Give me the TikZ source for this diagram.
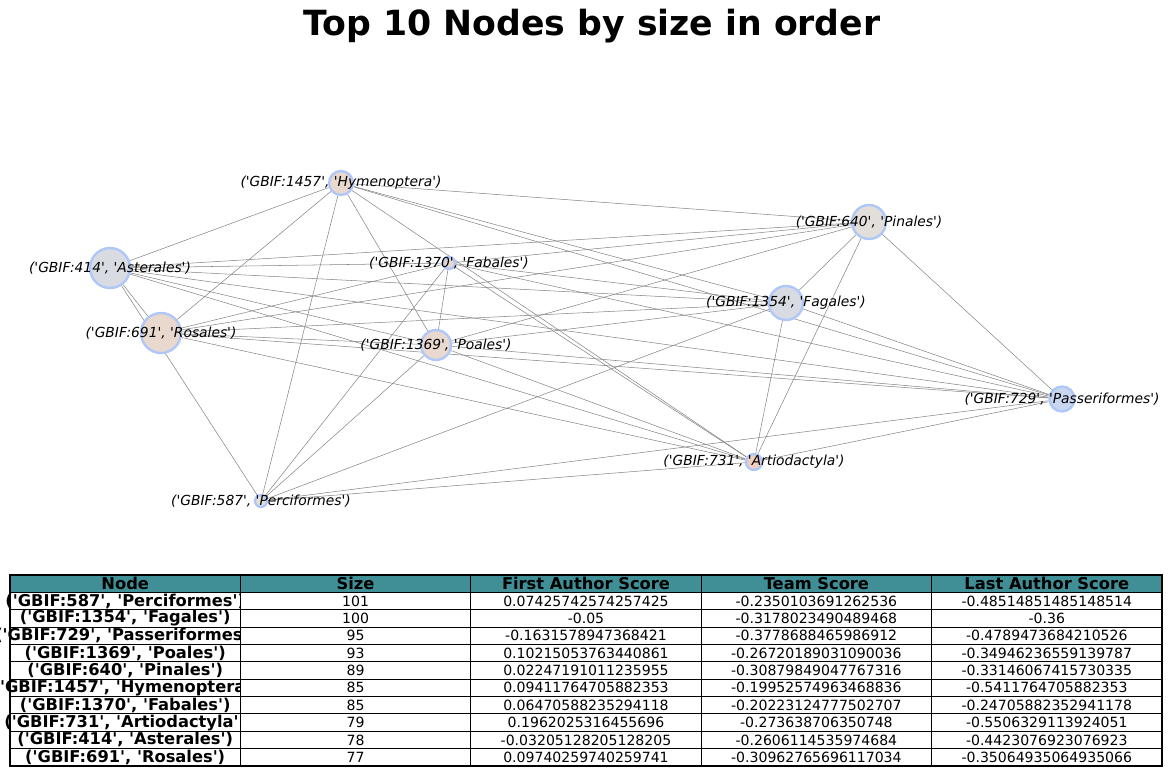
\documentclass[tikz,border=0pt]{standalone}
\usepackage{fontspec}
\newfontfamily\plotfont{DejaVu Sans}[ItalicFont={DejaVu Sans Oblique},BoldFont={DejaVu Sans Bold}]
\usetikzlibrary{backgrounds,positioning}
\definecolor{ringblue}{HTML}{AEC7F8}
\definecolor{headteal}{HTML}{408E96}
\definecolor{peach}{HTML}{E8D8CE}
\definecolor{peachdark}{HTML}{F0CEBE}
\definecolor{greyblue}{HTML}{D8DCE2}
\definecolor{greywarm}{HTML}{E2DEDA}
\definecolor{paleblue}{HTML}{C8D6F0}
\newcommand\tablebold{\plotfont\bfseries\fontsize{13.9}{14}\selectfont}
\newcommand\tablefont{\plotfont\fontsize{12}{13}\selectfont}
\begin{document}
\begin{tikzpicture}[x=0.03cm,y=-0.03cm,
  taxon/.style={circle,draw=ringblue,line width=2pt,inner sep=0pt},
  taxonlabel/.style={font=\plotfont\itshape\fontsize{11.8}{12}\selectfont,inner sep=0pt},
  link/.style={draw=black!48,line width=0.45pt},
  cellbox/.style={draw=black,line width=1pt,fill=white,minimum width=6.912cm,minimum height=0.5208cm,inner sep=0pt}]
\useasboundingbox (0,0) rectangle (1172,776);
\node[font=\plotfont\bfseries\fontsize{29.6}{30}\selectfont] (title) at (592,26) {Top 10 Nodes by size in order};
% graph
\node[taxon,fill=peach,minimum size=0.72cm] (H) at (341,183) {};
\node[taxon,fill=greyblue,minimum size=1.2cm] (As) at (110,268) {};
\node[taxon,fill=peach,minimum size=1.2cm] (Ro) at (161,333) {};
\node[taxon,fill=peach,minimum size=0.36cm] (Fb) at (449,263) {};
\node[taxon,fill=peach,minimum size=0.9cm] (Po) at (436,345) {};
\node[taxon,fill=greywarm,minimum size=1.02cm] (Pi) at (869,222) {};
\node[taxon,fill=greyblue,minimum size=1.02cm] (Fg) at (786,303) {};
\node[taxon,fill=paleblue,minimum size=0.75cm] (Pa) at (1062,399) {};
\node[taxon,fill=peachdark,minimum size=0.48cm] (Ar) at (754,462) {};
\node[taxon,fill=greywarm,minimum size=0.36cm] (Pe) at (261,501) {};
\begin{scope}[on background layer]
\foreach \t in {As,Ro,Pe,Po,Pi,Fg,Pa,Ar} \draw[link] (H) -- (\t);
\foreach \t in {Ro,Pe,Fb,Po,Pi,Fg,Pa,Ar} \draw[link] (As) -- (\t);
\foreach \t in {Fb,Po,Pi,Fg,Pa,Ar} \draw[link] (Ro) -- (\t);
\foreach \t in {Po,Pe,Pi,Fg,Pa,Ar} \draw[link] (Fb) -- (\t);
\foreach \t in {Pe,Pi,Fg,Pa,Ar} \draw[link] (Po) -- (\t);
\foreach \t in {Fg,Pa,Ar} \draw[link] (Pi) -- (\t);
\foreach \t in {Pe,Pa,Ar} \draw[link] (Fg) -- (\t);
\foreach \t in {Ar,Pe} \draw[link] (Pa) -- (\t);
\draw[link] (Ar) -- (Pe);
\end{scope}
\node[taxonlabel] (H-lbl) at (H) {('GBIF:1457', 'Hymenoptera')};
\node[taxonlabel] (As-lbl) at (As) {('GBIF:414', 'Asterales')};
\node[taxonlabel] (Ro-lbl) at (Ro) {('GBIF:691', 'Rosales')};
\node[taxonlabel] (Fb-lbl) at (Fb) {('GBIF:1370', 'Fabales')};
\node[taxonlabel] (Po-lbl) at (Po) {('GBIF:1369', 'Poales')};
\node[taxonlabel] (Pi-lbl) at (Pi) {('GBIF:640', 'Pinales')};
\node[taxonlabel] (Fg-lbl) at (Fg) {('GBIF:1354', 'Fagales')};
\node[taxonlabel] (Pa-lbl) at (Pa) {('GBIF:729', 'Passeriformes')};
\node[taxonlabel] (Ar-lbl) at (Ar) {('GBIF:731', 'Artiodactyla')};
\node[taxonlabel] (Pe-lbl) at (Pe) {('GBIF:587', 'Perciformes')};
% table
\foreach \hd [count=\c] in {Node,Size,First Author Score,Team Score,Last Author Score}
  \node[cellbox,fill=headteal,font=\tablebold] (head-\c) at ({10+230.4*(\c-0.5)},583.7) {\hd};
\foreach \nm/\sz/\fa/\tm/\la [count=\r] in {
  {('GBIF:587', 'Perciformes')}/101/0.07425742574257425/-0.2350103691262536/-0.48514851485148514,
  {('GBIF:1354', 'Fagales')}/100/-0.05/-0.3178023490489468/-0.36,
  {('GBIF:729', 'Passeriformes')}/95/-0.1631578947368421/-0.3778688465986912/-0.4789473684210526,
  {('GBIF:1369', 'Poales')}/93/0.10215053763440861/-0.26720189031090036/-0.34946236559139787,
  {('GBIF:640', 'Pinales')}/89/0.02247191011235955/-0.30879849047767316/-0.33146067415730335,
  {('GBIF:1457', 'Hymenoptera')}/85/0.09411764705882353/-0.19952574963468836/-0.5411764705882353,
  {('GBIF:1370', 'Fabales')}/85/0.06470588235294118/-0.20223124777502707/-0.24705882352941178,
  {('GBIF:731', 'Artiodactyla')}/79/0.1962025316455696/-0.273638706350748/-0.5506329113924051,
  {('GBIF:414', 'Asterales')}/78/-0.03205128205128205/-0.2606114535974684/-0.4423076923076923,
  {('GBIF:691', 'Rosales')}/77/0.09740259740259741/-0.30962765696117034/-0.35064935064935066}{
  \node[cellbox] (name-\r) at (125.2,{583.7+17.36*\r}) {};
  \node[font=\tablebold] (nametext-\r) at (name-\r) {\nm};
  \node[cellbox,font=\tablefont] (size-\r) at (355.6,{583.7+17.36*\r}) {\sz};
  \node[cellbox,font=\tablefont] (first-\r) at (586,{583.7+17.36*\r}) {\fa};
  \node[cellbox,font=\tablefont] (team-\r) at (816.4,{583.7+17.36*\r}) {\tm};
  \node[cellbox,font=\tablefont] (last-\r) at (1046.8,{583.7+17.36*\r}) {\la};
}
\end{tikzpicture}
\end{document}
